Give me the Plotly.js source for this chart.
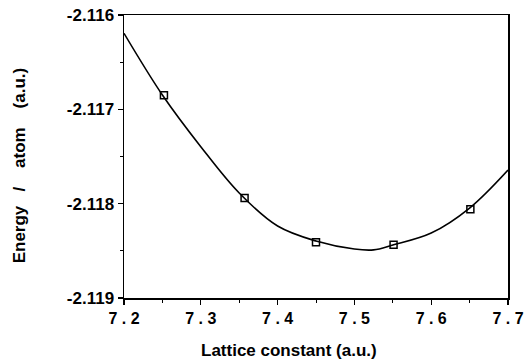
<!DOCTYPE html>
<html>
<head>
<meta charset="utf-8">
<script src="https://cdn.plot.ly/plotly-3.0.1.min.js"></script>
<style>html,body{margin:0;padding:0;background:#fff;}</style>
</head>
<body>
<div id="chart" style="width:531px;height:362px;"></div>
<script>
// Computed points (markers)
const latticePoints = [7.252, 7.357, 7.450, 7.551, 7.651];
const energyPoints = [-2.11685, -2.11794, -2.11841, -2.118435, -2.11806];

// Fitted curve
const latticeCurve = [7.20, 7.25, 7.30, 7.35, 7.40, 7.45, 7.50, 7.525, 7.55, 7.60, 7.65, 7.70];
const energyCurve = [-2.116194, -2.116848, -2.117396, -2.117887, -2.118237, -2.118396, -2.118481, -2.118490, -2.118438, -2.118311, -2.118046, -2.117643];

// Tick labels
const xTickVals = [7.2, 7.3, 7.4, 7.5, 7.6, 7.7];
const xTickText = ["7 . 2", "7 . 3", "7 . 4", "7 . 5", "7 . 6", "7 . 7"];
const yTickVals = [-2.116, -2.117, -2.118, -2.119];
const yTickText = ["-2.116", "-2.117", "-2.118", "-2.119"];

const xTitle = "Lattice constant (a.u.)";
const yTitle = "Energy\u00a0\u00a0 /\u00a0\u00a0\u00a0 atom\u00a0\u00a0\u00a0 (a.u.)";

const font = "Liberation Sans, Arial, Helvetica, sans-serif";
const bold = s => "<b>" + s + "</b>";

const traces = [
  {
    x: latticeCurve, y: energyCurve, mode: "lines",
    line: {color: "#000", width: 1.6, shape: "spline", smoothing: 1},
    hoverinfo: "skip", showlegend: false
  },
  {
    x: latticePoints, y: energyPoints, mode: "markers",
    marker: {symbol: "square-open", size: 7, color: "#000", line: {width: 1.5, color: "#000"}},
    showlegend: false
  }
];

const layout = {
  width: 531, height: 362,
  margin: {l: 124, r: 23, t: 15, b: 64},
  paper_bgcolor: "#fff", plot_bgcolor: "#fff",
  font: {family: font, color: "#000"},
  xaxis: {
    range: [7.2, 7.7], showgrid: false, zeroline: false,
    showline: true, linecolor: "#000", linewidth: 1.5, mirror: true,
    ticks: "outside", ticklen: 5, tickwidth: 1.2, tickcolor: "#000",
    tickvals: xTickVals, ticktext: xTickText.map(bold),
    tickfont: {family: font, size: 16, color: "#000"},
    minor: {dtick: 0.05, tick0: 7.2, ticks: "outside", ticklen: 3, tickwidth: 1, tickcolor: "#000", showgrid: false}
  },
  yaxis: {
    range: [-2.119, -2.116], showgrid: false, zeroline: false,
    showline: true, linecolor: "#000", linewidth: 1.5, mirror: true,
    ticks: "outside", ticklen: 5, tickwidth: 1.2, tickcolor: "#000",
    tickvals: yTickVals, ticktext: yTickText.map(bold),
    tickfont: {family: font, size: 17, color: "#000"},
    minor: {dtick: 0.0005, tick0: -2.119, ticks: "outside", ticklen: 3, tickwidth: 1, tickcolor: "#000", showgrid: false}
  },
  annotations: [
    {
      text: bold(xTitle), xref: "paper", yref: "paper", x: 0.43, y: -0.185,
      xanchor: "center", yanchor: "middle", showarrow: false,
      font: {family: font, size: 17, color: "#000"}
    },
    {
      text: bold(yTitle), xref: "paper", yref: "paper", x: -0.27, y: 0.47,
      xanchor: "center", yanchor: "middle", showarrow: false, textangle: -90,
      font: {family: font, size: 17, color: "#000"}
    }
  ]
};

Plotly.newPlot("chart", traces, layout, {displayModeBar: false, staticPlot: true});
</script>
</body>
</html>
